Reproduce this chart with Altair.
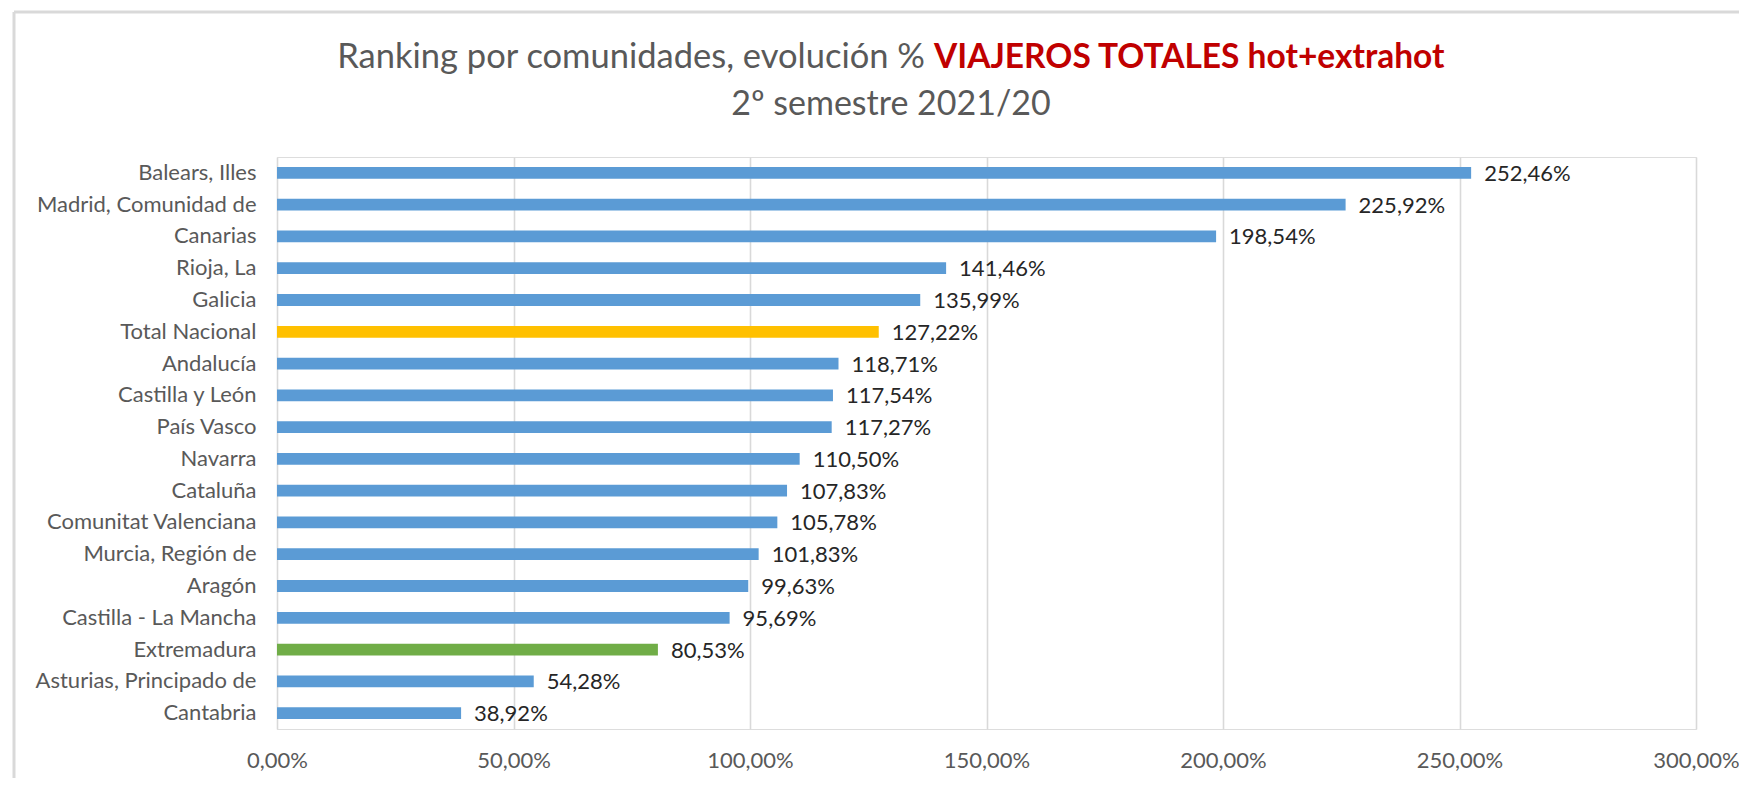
import altair as alt
import pandas as pd

regions = [
    "Balears, Illes", "Madrid, Comunidad de", "Canarias", "Rioja, La", "Galicia",
    "Total Nacional", "Andalucía", "Castilla y León", "País Vasco", "Navarra",
    "Cataluña", "Comunitat Valenciana", "Murcia, Región de", "Aragón",
    "Castilla - La Mancha", "Extremadura", "Asturias, Principado de", "Cantabria",
]
values = [252.46, 225.92, 198.54, 141.46, 135.99, 127.22, 118.71, 117.54, 117.27,
          110.50, 107.83, 105.78, 101.83, 99.63, 95.69, 80.53, 54.28, 38.92]
x_ticks = [0, 50, 100, 150, 200, 250, 300]

title_gray = "Ranking por comunidades,  evolución %"
title_red = "VIAJEROS TOTALES hot+extrahot"
subtitle = "2º semestre 2021/20"

FONT = "Lato"
W, H = 1419, 572
PAD_L, PAD_T = 269, 149

df = pd.DataFrame({"region": regions, "valor": values})
df["etiqueta"] = [f"{v:.2f}".replace(".", ",") + "%" for v in values]

def bar_color(r):
    if r == "Total Nacional":
        return "#FFC000"
    if r == "Extremadura":
        return "#70AD47"
    return "#5B9BD5"

color_range = [bar_color(r) for r in regions]

y_enc = alt.Y("region:N", sort=regions, title=None,
              scale=alt.Scale(paddingInner=0.63, paddingOuter=0.315),
              axis=alt.Axis(domain=False, ticks=False, labelFont=FONT, labelFontSize=22,
                            labelColor="#595959", labelPadding=21, labelLimit=400))
x_enc = alt.X("valor:Q", title=None,
              scale=alt.Scale(domain=[0, 300], nice=False),
              axis=alt.Axis(values=x_ticks, domain=False, ticks=False, grid=True,
                            gridColor="#D9D9D9", gridWidth=1.6,
                            labelFont=FONT, labelFontSize=22, labelColor="#595959",
                            labelPadding=21, labelFlush=False, labelOverlap=False,
                            labelExpr="replace(format(datum.value, '.2f'), '.', ',') + '%'"))

base = alt.Chart(df)
bars = base.mark_bar().encode(
    y=y_enc, x=x_enc,
    color=alt.Color("region:N", scale=alt.Scale(domain=regions, range=color_range), legend=None),
)
labels = base.mark_text(align="left", baseline="middle", dx=13, dy=1, font=FONT,
                        fontSize=22, color="#262626").encode(
    y=alt.Y("region:N", sort=regions), x="valor:Q", text="etiqueta:N")

def txt(s, px, py, align, color, size, weight="normal"):
    return alt.Chart(pd.DataFrame({"t": [s]})).mark_text(
        align=align, baseline="middle", font=FONT, fontSize=size, color=color,
        fontWeight=weight).encode(
        x=alt.value(px - 8 - PAD_L), y=alt.value(py - 8 - PAD_T), text="t:N")

t1 = txt(title_gray, 925, 58, "right", "#595959", 34.5)
t2 = txt(title_red, 934, 58, "left", "#C00000", 33.5, "bold")
t3 = txt(subtitle, 891, 105, "center", "#595959", 34)

frame_left = alt.Chart(pd.DataFrame({"a": [0]})).mark_rule(color="#D9D9D9", strokeWidth=3).encode(
    x=alt.value(14 - 8 - PAD_L), y=alt.value(12 - 8 - PAD_T), y2=alt.value(786 - PAD_T))
frame_top = alt.Chart(pd.DataFrame({"a": [0]})).mark_rule(color="#D9D9D9", strokeWidth=3).encode(
    x=alt.value(14 - 8 - PAD_L), x2=alt.value(1747 - PAD_L), y=alt.value(12 - 8 - PAD_T))

chart = alt.layer(frame_left, frame_top, bars, labels, t1, t2, t3).properties(
    width=W, height=H, autosize="none",
    padding={"left": PAD_L, "top": PAD_T, "right": 1731 - PAD_L - W, "bottom": 770 - PAD_T - H},
).configure_view(stroke=None).configure(background="white")

chart.save("out.html", embed_options={"renderer": "svg", "actions": False})
